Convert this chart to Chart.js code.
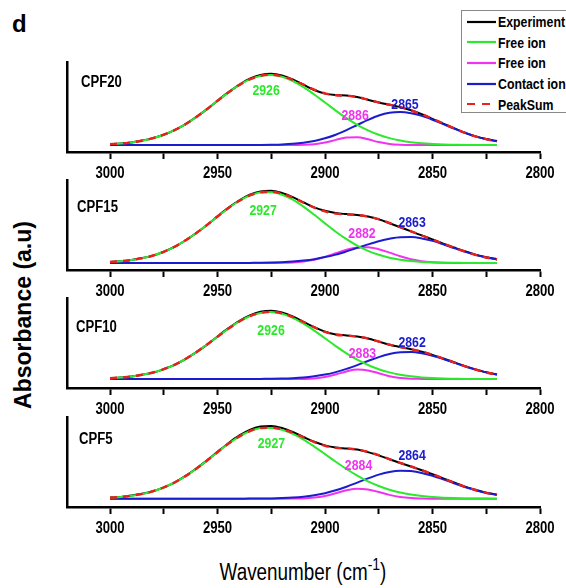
<!DOCTYPE html>
<html>
<head>
<meta charset="utf-8">
<script src="https://cdn.jsdelivr.net/npm/chart.js@4.4.1/dist/chart.umd.min.js"></script>
<style>
html,body{margin:0;padding:0;background:#fff;width:566px;height:588px;overflow:hidden;}
#wrap{position:relative;width:566px;height:588px;}
canvas.panel{position:absolute;left:0;}
#letter{position:absolute;left:12px;top:12px;font:bold 24px 'Liberation Sans',Arial,sans-serif;line-height:1;color:#000;}
#ytitle{position:absolute;left:23px;top:315px;transform:translate(-50%,-50%) rotate(-90deg);font:bold 23px 'Liberation Sans',Arial,sans-serif;white-space:nowrap;color:#000;line-height:1;}
#xtitle{position:absolute;left:303px;top:559px;transform:translateX(-50%) scaleX(0.82);font:23px 'Liberation Sans',Arial,sans-serif;white-space:nowrap;color:#000;line-height:26px;}
#xtitle sup{font-size:17px;line-height:0;vertical-align:10px;}
#legend{position:absolute;left:461px;top:10px;width:106px;height:103px;border:1px solid #888;background:#fff;box-sizing:border-box;z-index:5;}
.lrow{position:absolute;left:0;height:20px;display:flex;align-items:center;font:bold 15px 'Liberation Sans',Arial,sans-serif;color:#000;white-space:nowrap;}
.lrow svg{margin-left:5px;margin-right:2px;}
.lrow span{display:inline-block;transform:scaleX(0.82);transform-origin:left center;}
</style>
</head>
<body>
<div id="wrap">
  <div id="letter">d</div>
  <div id="ytitle">Absorbance (a.u)</div>
  <div id="xtitle">Wavenumber (cm<sup>-1</sup>)</div>
  <div id="legend"></div>
  <canvas class="panel" id="p1" width="566" height="130"></canvas>
  <canvas class="panel" id="p2" width="566" height="130"></canvas>
  <canvas class="panel" id="p3" width="566" height="130"></canvas>
  <canvas class="panel" id="p4" width="566" height="130"></canvas>
</div>
<script>
// ---------------- DATA ----------------
const wavenumbers = [3000,2995,2990,2985,2980,2975,2970,2965,2960,2955,2950,2945,2940,2935,2930,2925,2920,2915,2910,2905,2900,2895,2890,2885,2880,2875,2870,2865,2860,2855,2850,2845,2840,2835,2830,2825,2820];
const xTickValues = [3000,2950,2900,2850,2800];

const seriesNames = ['Experiment','Free ion','Free ion','Contact ion','PeakSum'];
const panelNames = ['CPF20','CPF15','CPF10','CPF5'];

// CPF20
const cpf20Experiment = [8.0,8.4,9.5,11.4,13.9,17.2,21.9,27.6,34.9,42.6,51.3,59.6,67.2,73.3,77.1,78.2,76.6,72.6,67.3,62.0,58.4,56.9,56.4,54.9,52.2,49.5,47.2,44.9,41.7,37.7,33.1,28.3,23.8,19.4,15.6,12.9,10.9];
const cpf20FreeIonA  = [7.9,8.5,9.6,11.3,13.8,17.3,21.8,27.7,34.8,42.7,51.2,59.4,66.8,72.6,76.1,77.0,75.2,71.0,64.9,57.5,49.5,41.4,33.8,27.2,21.6,17.2,13.9,11.5,9.8,8.7,8.0,7.5,7.3,7.1,7.1,7.0,7.0];
const cpf20FreeIonB  = [7.0,7.0,7.0,7.0,7.0,7.0,7.0,7.0,7.0,7.0,7.0,7.0,7.0,7.0,7.0,7.0,7.0,7.0,7.2,7.8,9.5,12.1,14.5,14.8,12.7,9.9,8.1,7.3,7.0,7.0,7.0,7.0,7.0,7.0,7.0,7.0,7.0];
const cpf20Contact   = [7.0,7.0,7.0,7.0,7.0,7.0,7.0,7.0,7.0,7.0,7.0,7.0,7.0,7.0,7.1,7.3,7.6,8.2,9.3,11.0,13.7,17.3,21.9,27.0,32.1,36.5,39.3,40.0,38.8,36.1,32.3,27.9,23.4,19.2,15.6,12.8,10.7];
const cpf20PeakSum   = [7.9,8.5,9.6,11.3,13.8,17.3,21.8,27.7,34.8,42.7,51.2,59.4,66.8,72.6,76.2,77.3,75.8,72.2,67.4,62.3,58.7,56.8,56.2,55.0,52.4,49.6,47.3,44.8,41.6,37.8,33.3,28.4,23.7,19.3,15.7,12.8,10.7];

// CPF15
const cpf15Experiment = [8.1,8.7,10.1,11.9,14.4,18.3,23.1,29.5,36.8,44.8,53.6,62.1,69.5,75.3,78.6,79.2,77.0,72.8,67.6,62.6,59.2,56.9,55.9,55.1,53.4,50.6,46.8,42.8,38.6,34.6,30.6,26.4,22.5,18.7,15.3,12.7,10.8];
const cpf15FreeIonA  = [8.0,8.8,10.0,11.8,14.5,18.2,23.2,29.4,36.7,44.9,53.5,61.8,69.0,74.5,77.5,77.8,75.3,70.3,63.4,55.2,46.6,38.3,30.8,24.3,19.1,15.2,12.3,10.3,9.0,8.1,7.6,7.3,7.2,7.1,7.0,7.0,7.0];
const cpf15FreeIonB  = [7.0,7.0,7.0,7.0,7.0,7.0,7.0,7.0,7.0,7.0,7.0,7.0,7.0,7.0,7.0,7.1,7.2,7.6,8.6,10.3,13.1,16.7,20.2,22.6,22.8,20.8,17.4,13.8,10.8,8.8,7.8,7.3,7.1,7.0,7.0,7.0,7.0];
const cpf15Contact   = [7.0,7.0,7.0,7.0,7.0,7.0,7.0,7.0,7.0,7.0,7.0,7.0,7.0,7.1,7.2,7.4,7.8,8.4,9.4,10.8,12.9,15.4,18.6,22.1,25.6,28.8,31.3,32.8,32.9,31.6,29.1,25.7,22.0,18.4,15.1,12.5,10.5];
const cpf15PeakSum   = [8.0,8.8,10.0,11.8,14.5,18.2,23.2,29.4,36.7,44.9,53.5,61.8,69.0,74.6,77.7,78.3,76.3,72.3,67.4,62.3,58.6,56.4,55.6,55.0,53.5,50.8,47.0,42.9,38.7,34.5,30.5,26.3,22.3,18.5,15.1,12.5,10.5];

// CPF10
const cpf10Experiment = [9.9,10.4,11.6,13.3,15.4,18.9,23.1,28.9,35.7,43.1,51.5,59.6,66.9,72.6,76.2,77.2,75.5,71.5,66.2,60.8,56.3,53.6,52.6,51.5,49.5,46.4,43.2,41.0,38.8,36.3,33.1,29.5,25.8,21.9,18.6,15.7,13.6];
const cpf10FreeIonA  = [9.8,10.5,11.5,13.2,15.5,18.8,23.2,28.8,35.6,43.2,51.3,59.2,66.3,71.8,75.1,76.0,74.3,70.2,64.4,57.4,49.7,41.9,34.7,28.3,23.0,18.8,15.6,13.3,11.7,10.6,9.9,9.5,9.3,9.1,9.1,9.0,9.0];
const cpf10FreeIonB  = [9.0,9.0,9.0,9.0,9.0,9.0,9.0,9.0,9.0,9.0,9.0,9.0,9.0,9.0,9.0,9.0,9.0,9.0,9.1,9.6,11.0,13.5,16.6,18.4,17.6,14.8,11.8,10.0,9.3,9.1,9.0,9.0,9.0,9.0,9.0,9.0,9.0];
const cpf10Contact   = [9.0,9.0,9.0,9.0,9.0,9.0,9.0,9.0,9.0,9.0,9.0,9.0,9.0,9.0,9.1,9.2,9.4,9.8,10.5,11.7,13.4,15.9,19.1,22.9,27.0,30.9,33.9,35.7,35.9,34.7,32.3,29.0,25.4,21.7,18.4,15.6,13.4];
const cpf10PeakSum   = [9.8,10.5,11.5,13.2,15.5,18.8,23.2,28.8,35.6,43.2,51.3,59.2,66.3,71.8,75.2,76.2,74.7,71.0,66.0,60.7,56.1,53.3,52.4,51.6,49.6,46.5,43.3,41.0,38.9,36.4,33.2,29.5,25.7,21.8,18.5,15.6,13.4];

// CPF5
const cpf5Experiment = [9.4,10.0,11.4,13.2,15.7,19.6,24.4,30.8,38.2,46.4,55.2,63.8,71.4,77.2,80.4,81.0,79.0,75.0,70.0,65.2,61.6,59.4,58.5,57.4,54.9,51.6,47.7,44.0,40.5,36.8,32.7,28.6,24.5,20.4,17.2,14.4,12.3];
const cpf5FreeIonA  = [9.3,10.1,11.3,13.1,15.8,19.5,24.5,30.7,38.0,46.2,54.8,63.1,70.4,75.8,78.8,79.1,77.1,73.1,67.4,60.4,52.9,45.2,38.0,31.4,25.6,21.0,17.2,14.4,12.4,10.9,9.9,9.3,8.9,8.6,8.5,8.4,8.3];
const cpf5FreeIonB  = [8.3,8.3,8.3,8.3,8.3,8.3,8.3,8.3,8.3,8.3,8.3,8.3,8.3,8.3,8.3,8.3,8.3,8.4,8.6,9.4,11.1,13.8,16.7,18.3,17.5,15.0,12.1,10.0,8.9,8.5,8.3,8.3,8.3,8.3,8.3,8.3,8.3];
const cpf5Contact   = [8.3,8.3,8.3,8.3,8.3,8.3,8.3,8.3,8.3,8.3,8.3,8.3,8.3,8.4,8.4,8.6,8.9,9.4,10.3,11.7,13.8,16.7,20.3,24.4,28.6,32.4,35.1,36.3,35.9,34.1,31.2,27.6,23.8,20.0,16.8,14.1,12.1];
const cpf5PeakSum   = [9.3,10.1,11.3,13.1,15.8,19.5,24.5,30.7,38.0,46.2,54.8,63.1,70.4,75.9,78.9,79.4,77.7,74.3,69.7,64.9,61.2,59.1,58.4,57.5,55.1,51.8,47.8,44.1,40.6,36.9,32.8,28.6,24.4,20.3,17.0,14.2,12.1];

// peak label texts (green, magenta, blue) per panel
const peakTextsCPF20 = ['2926','2886','2865'];
const peakTextsCPF15 = ['2927','2882','2863'];
const peakTextsCPF10 = ['2926','2883','2862'];
const peakTextsCPF5  = ['2927','2884','2864'];

// ---------------- STYLE / LAYOUT ----------------
const FONT = "'Liberation Sans',Arial,sans-serif";
const SQUEEZE = 0.82; // condensed look (Arial Narrow-like)
const seriesColors = ['#000000','#2ee82e','#f033f0','#1c1ccf','#e8201e'];
const labelColors = ['#2ee82e','#f033f0','#1c1ccf'];
const drawOrder = [4,1,3,2,0];

// anchor points (data coords) for text annotations
const labelAnchors = [
  [[2927.4,61],[2886,36],[2862.8,47]],
  [[2928.8,59],[2882.8,36],[2859.5,47.5]],
  [[2925.1,57.5],[2882.6,34],[2859.5,45]],
  [[2924.9,63],[2884.4,41],[2859.5,51]]
];
const nameAnchors = [[3013.5,69.5],[3015.3,62.5],[3015.8,60],[3014.4,67]];
const canvasTops = [52,170,288,407];

// legend (HTML) from series arrays
(function buildLegend(){
  const lg = document.getElementById('legend');
  const centers = [10.7,31.3,51.9,72.5,93.1];
  seriesNames.forEach((n,i)=>{
    const row = document.createElement('div');
    row.className='lrow';
    row.style.top = (centers[i]-10)+'px';
    const dash = i===4 ? 'stroke-dasharray="8,7"' : '';
    row.innerHTML = `<svg width="29" height="6"><line x1="0" y1="3" x2="29" y2="3" stroke="${seriesColors[i]}" stroke-width="2.2" ${dash}/></svg><span>${n}</span>`;
    lg.appendChild(row);
  });
})();

// linear scale whose tick labels are drawn horizontally condensed
let xScaleType = 'linear';
if (Chart.LinearScale) {
  class CondensedLinearScale extends Chart.LinearScale {
    drawLabels(chartArea) {
      if (!this.options.ticks.display) return;
      const ctx = this.ctx;
      const items = this.getLabelItems(chartArea);
      for (const item of items) {
        const o = item.options;
        if (item.label === '' || item.label == null) continue;
        ctx.save();
        ctx.translate(o.translation[0], o.translation[1]);
        if (o.rotation) ctx.rotate(o.rotation);
        ctx.scale(SQUEEZE, 1);
        ctx.font = item.font.string;
        ctx.fillStyle = o.color;
        ctx.textAlign = o.textAlign;
        ctx.textBaseline = o.textBaseline;
        ctx.fillText(String(item.label), 0, item.textOffset);
        ctx.restore();
      }
    }
  }
  CondensedLinearScale.id = 'condensedLinear';
  CondensedLinearScale.defaults = Chart.LinearScale.defaults;
  Chart.register(CondensedLinearScale);
  xScaleType = 'condensedLinear';
}

const annotPlugin = {
  id:'annot',
  afterDatasetsDraw(chart, args, opts){
    const {ctx, scales:{x,y}} = chart;
    (opts.items||[]).forEach(it=>{
      ctx.save();
      ctx.translate(x.getPixelForValue(it.x), y.getPixelForValue(it.y));
      ctx.scale(SQUEEZE,1);
      ctx.font = it.font;
      ctx.fillStyle = it.color;
      ctx.textAlign = it.align || 'center';
      ctx.textBaseline = 'middle';
      ctx.fillText(it.text, 0, 0);
      ctx.restore();
    });
  }
};

function makePanel(idx, series, peakTexts){
  const el = document.getElementById('p'+(idx+1));
  el.style.top = canvasTops[idx]+'px';
  const items = peakTexts.map((t,k)=>({text:t, x:labelAnchors[idx][k][0], y:labelAnchors[idx][k][1], color:labelColors[k], font:"bold 15px "+FONT}));
  items.push({text:panelNames[idx], x:nameAnchors[idx][0], y:nameAnchors[idx][1], color:'#000', font:"bold 16px "+FONT, align:'left'});
  return new Chart(el, {
    type:'line',
    data:{
      labels: wavenumbers,
      datasets: series.map((d,i)=>({
        label: seriesNames[i],
        data: d,
        borderColor: seriesColors[i],
        borderWidth: i===4 ? 2.4 : 2,
        borderDash: i===4 ? [7,6] : [],
        pointRadius: 0,
        fill: false,
        cubicInterpolationMode: 'monotone',
        order: drawOrder[i]
      }))
    },
    options:{
      responsive:false,
      animation:false,
      devicePixelRatio:1,
      layout:{padding:{left:67,right:26,top:10,bottom:0}},
      plugins:{legend:{display:false}, tooltip:{enabled:false}, annot:{items}},
      scales:{
        x:{
          type:xScaleType, reverse:true, min:2800, max:3020,
          border:{display:true,color:'#000',width:2.5},
          grid:{display:true,drawOnChartArea:false,drawTicks:true,tickLength:7,tickColor:'#000',tickWidth:2},
          ticks:{stepSize:25,includeBounds:false,autoSkip:false,maxRotation:0,padding:5,color:'#000',
                 font:{family:FONT,size:16,weight:'bold'},
                 callback:(v)=> xTickValues.includes(v) ? String(v) : ''},
          afterFit:(s)=>{s.height=30;}
        },
        y:{
          min:0,max:90,
          border:{display:true,color:'#000',width:2.5},
          grid:{display:false,drawTicks:false},
          ticks:{display:false},
          afterFit:(s)=>{s.width=0;}
        }
      }
    },
    plugins:[annotPlugin]
  });
}

makePanel(0,[cpf20Experiment,cpf20FreeIonA,cpf20FreeIonB,cpf20Contact,cpf20PeakSum],peakTextsCPF20);
makePanel(1,[cpf15Experiment,cpf15FreeIonA,cpf15FreeIonB,cpf15Contact,cpf15PeakSum],peakTextsCPF15);
makePanel(2,[cpf10Experiment,cpf10FreeIonA,cpf10FreeIonB,cpf10Contact,cpf10PeakSum],peakTextsCPF10);
makePanel(3,[cpf5Experiment,cpf5FreeIonA,cpf5FreeIonB,cpf5Contact,cpf5PeakSum],peakTextsCPF5);
</script>
</body>
</html>
